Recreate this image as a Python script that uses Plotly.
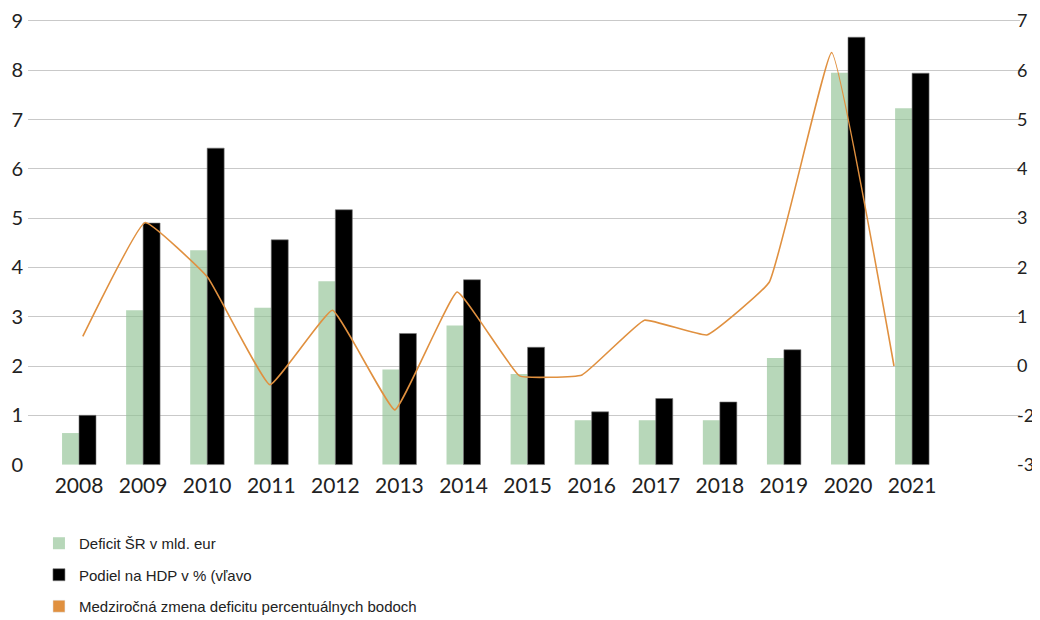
import plotly.graph_objects as go

# roky
roky = ["2008", "2009", "2010", "2011", "2012", "2013", "2014",
        "2015", "2016", "2017", "2018", "2019", "2020", "2021"]

# Deficit SR v mld. eur
deficit_mld = [0.64, 3.13, 4.35, 3.18, 3.72, 1.93, 2.82,
               1.84, 0.90, 0.90, 0.90, 2.16, 7.95, 7.23]

# Podiel na HDP v %
podiel_hdp = [1.00, 4.90, 6.42, 4.56, 5.17, 2.66, 3.75,
              2.38, 1.07, 1.34, 1.27, 2.33, 8.67, 7.94]

# medzirocna zmena deficitu (prava os)
zmena_pb = [0.60, 2.91, 1.80, -0.38, 1.13, -0.89, 1.50,
            -0.20, -0.18, 0.93, 0.63, 1.70, 6.36, 0.00]

# lava os 0..9, prava os s popismi ako v originale
lava_ticky = [0, 1, 2, 3, 4, 5, 6, 7, 8, 9]
prava_ticky = [-2, -1, 0, 1, 2, 3, 4, 5, 6, 7]
prava_popisy = ["-3", "-2", "0", "1", "2", "3", "4", "5", "6", "7"]

zelena = "rgba(144,193,147,0.65)"
oranzova = "#e0903f"

fig = go.Figure()

fig.add_trace(go.Bar(x=roky, y=deficit_mld, name="Deficit ŠR v mld. eur",
                     marker=dict(color=zelena, line=dict(width=0)),
                     legendgroup="a"))
fig.add_trace(go.Bar(x=roky, y=podiel_hdp, name="Podiel na HDP v % (vľavo",
                     marker=dict(color="black", line=dict(width=0.6, color="#777")),
                     legendgroup="b"))

# ciara na vlastnej osi (mierne stlacena ako v originale)
fig.add_trace(go.Scatter(x=roky, y=zmena_pb, mode="lines",
                         line=dict(color=oranzova, width=1.6, shape="spline", smoothing=0.3),
                         xaxis="x2", yaxis="y2", showlegend=False, hoverinfo="x+y"))
# legenda pre ciaru ako obdlznik
fig.add_trace(go.Bar(x=[None], y=[None], name="Medziročná zmena deficitu percentuálnych bodoch",
                     marker=dict(color=oranzova), xaxis="x2", yaxis="y2",
                     legendgroup="c"))

# stranka ma okraj 8 px, preto je graf o 8 px mensi
fig.update_layout(
    width=1032, height=612,
    margin=dict(l=20, r=20, t=10, b=149, autoexpand=False),
    paper_bgcolor="white", plot_bgcolor="white",
    barmode="group", bargap=0.47, bargroupgap=0,
    font=dict(family="Lato, Liberation Sans, sans-serif", color="#222"),
    xaxis=dict(type="category", range=[-0.796, 14.684], showgrid=False,
               showline=False, ticks="", tickfont=dict(size=21, color="#222"),
               tickangle=0, fixedrange=True),
    xaxis2=dict(type="category", overlaying="x", range=[-0.878, 15.019],
                showticklabels=False, showgrid=False, showline=False, ticks=""),
    yaxis=dict(range=[-0.13, 9.06], tickvals=lava_ticky, showgrid=True,
               gridcolor="#c9c9c9", gridwidth=1.4, ticks="", ticklen=0,
               zeroline=True, zerolinecolor="rgba(0,0,0,0)", zerolinewidth=1,
               tickfont=dict(size=20, color="#222"), ticklabelstandoff=4,
               ticklabeloverflow="allow", automargin=False),
    yaxis2=dict(range=[-2.13, 7.06], overlaying="y", side="right",
                tickvals=prava_ticky, ticktext=prava_popisy,
                showgrid=False, zeroline=False, showline=False,
                ticks="", ticklen=0,
                tickfont=dict(size=18, color="#222"), ticklabelstandoff=-4,
                ticklabeloverflow="allow", automargin=False),
    legend=dict(xref="container", yref="container", x=0.03, y=0.152,
                xanchor="left", yanchor="top", orientation="v",
                tracegroupgap=9, traceorder="grouped",
                font=dict(family="Liberation Sans, Arial, sans-serif", size=15, color="#222"),
                bgcolor="rgba(0,0,0,0)"),
)

fig.write_html("out.html")
